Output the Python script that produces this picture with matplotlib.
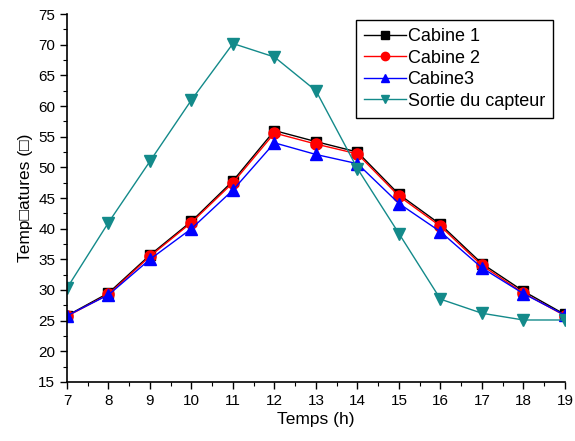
import matplotlib
matplotlib.use("Agg")
import matplotlib.pyplot as plt
from matplotlib.ticker import MultipleLocator

plt.rcParams['font.family'] = ['Liberation Sans', 'DejaVu Sans']

hours = [7, 8, 9, 10, 11, 12, 13, 14, 15, 16, 17, 18, 19]
cabine1 = [25.8, 29.5, 35.7, 41.2, 47.8, 56.0, 54.2, 52.5, 45.6, 40.7, 34.3, 29.8, 26.0]
cabine2 = [25.7, 29.3, 35.5, 41.0, 47.5, 55.6, 53.8, 52.2, 45.3, 40.4, 34.0, 29.5, 25.8]
cabine3 = [25.8, 29.2, 35.0, 40.0, 46.3, 54.0, 52.1, 50.6, 44.1, 39.5, 33.6, 29.4, 25.9]
sortie = [30.3, 41.0, 51.0, 61.0, 70.2, 68.0, 62.5, 49.8, 39.2, 28.5, 26.2, 25.1, 25.1]

fig = plt.figure(figsize=(5.75, 4.41), dpi=100)
ax = fig.add_axes([0.1165, 0.134, 0.866, 0.834])

ax.plot(hours, cabine1, color='black', marker='s', markersize=7, lw=1, label='Cabine 1')
ax.plot(hours, cabine2, color='red', marker='o', markersize=8, lw=1, label='Cabine 2')
ax.plot(hours, cabine3, color='blue', marker='^', markersize=8, lw=1, label='Cabine3')
ax.plot(hours, sortie, color='#138a8a', marker='v', markersize=8, lw=1, label='Sortie du capteur')

ax.set_xlim(7, 19)
ax.set_ylim(15, 75)
ax.xaxis.set_major_locator(MultipleLocator(1))
ax.xaxis.set_minor_locator(MultipleLocator(0.5))
ax.yaxis.set_major_locator(MultipleLocator(5))
ax.yaxis.set_minor_locator(MultipleLocator(2.5))
ax.tick_params(which='major', direction='out', length=5, width=1, labelsize=11)
ax.tick_params(which='minor', direction='out', length=3, width=0.8)
ax.spines['top'].set_visible(False)
ax.spines['right'].set_visible(False)
ax.spines['left'].set_linewidth(1.2)
ax.spines['bottom'].set_linewidth(1.2)

ax.set_xlabel('Temps (h)', fontsize=12.5, labelpad=3)
ax.set_ylabel('Temp\u25a1atures (\u25a1)', fontsize=12.5, labelpad=4)

leg = fig.legend(loc='upper right', bbox_to_anchor=(553 / 575, 1 - 20 / 441), fontsize=13,
                 frameon=True, fancybox=False, edgecolor='black', framealpha=1,
                 handlelength=2.3, handletextpad=0.1, labelspacing=0.25,
                 borderpad=0.45, markerscale=0.75, borderaxespad=0)
leg.get_frame().set_linewidth(1)

fig.savefig('out.png', dpi=100)
